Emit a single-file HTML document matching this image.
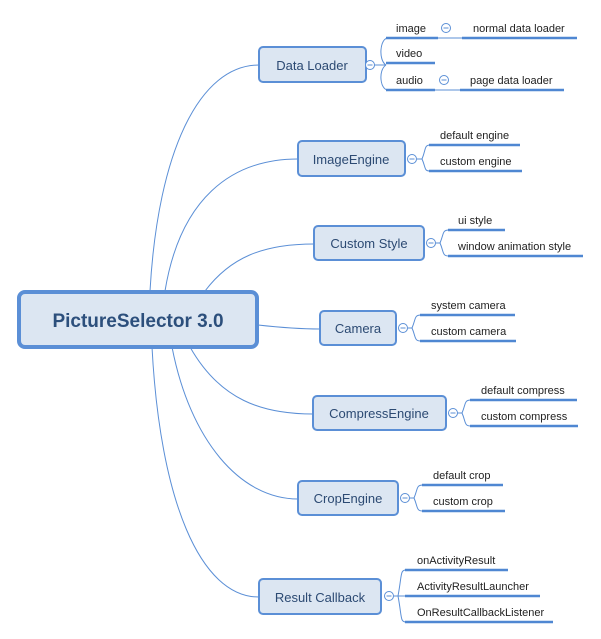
<!DOCTYPE html>
<html><head><meta charset="utf-8"><style>
html,body{margin:0;padding:0;background:#fff;}
svg{display:block;font-family:"Liberation Sans",Arial,sans-serif;}
.n{fill:#dce6f2;stroke:#5b8fd6;stroke-width:2;}
.t{fill:#2c4a73;font-size:13px;text-anchor:middle;}
.c{fill:none;stroke:#5b8fd6;stroke-width:1;}
.u{stroke:#4f87d2;stroke-width:2.5;}
.l{fill:#222;font-size:11px;}
.k{fill:#fff;stroke:#5b8fd6;stroke-width:1;}
.m{stroke:#5b8fd6;stroke-width:1;}
</style></head><body>
<svg width="601" height="639" viewBox="0 0 601 639">
<!-- root connectors -->
<path class="c" d="M150,291 C158,150 200,65 259,65"/>
<path class="c" d="M165,291 C180,200 230,159 298,159"/>
<path class="c" d="M205,291 C230,258 262,244 314,244"/>
<path class="c" d="M258,325 C285,328 300,329 320,329"/>
<path class="c" d="M190,347 C220,400 262,414 313,414"/>
<path class="c" d="M172,347 C190,440 240,499 298,499"/>
<path class="c" d="M152,347 C160,500 200,597 259,597"/>
<!-- root -->
<rect x="19" y="292" width="238" height="55" rx="6" fill="#dce6f2" stroke="#5b8fd6" stroke-width="4"/>
<text x="138" y="327" style="font-size:19px;font-weight:bold;fill:#2c4f7c;text-anchor:middle">PictureSelector 3.0</text>

<!-- helper: bracket function drawn manually -->
<!-- Data Loader -->
<rect class="n" x="259" y="47" width="107" height="35" rx="4"/>
<text class="t" x="312" y="70">Data Loader</text>
<path class="c" d="M374,65 L386,65 M386,65 C378,60 380,38 388,38 M386,65 C378,70 380,90 388,90"/>
<circle class="k" cx="370" cy="65" r="4.5"/><line class="m" x1="367.5" y1="65" x2="372.5" y2="65"/>
<line class="u" x1="386" y1="38" x2="438" y2="38"/><text class="l" x="396" y="32">image</text>
<line class="c" x1="438" y1="38" x2="462" y2="38"/>
<circle class="k" cx="446" cy="28" r="4.5"/><line class="m" x1="443.5" y1="28" x2="448.5" y2="28"/>
<line class="u" x1="462" y1="38" x2="577" y2="38"/><text class="l" x="473" y="32">normal data loader</text>
<line class="u" x1="386" y1="63" x2="435" y2="63"/><text class="l" x="396" y="57">video</text>
<line class="u" x1="386" y1="90" x2="435" y2="90"/><text class="l" x="396" y="84">audio</text>
<line class="c" x1="435" y1="90" x2="460" y2="90"/>
<circle class="k" cx="444" cy="80" r="4.5"/><line class="m" x1="441.5" y1="80" x2="446.5" y2="80"/>
<line class="u" x1="460" y1="90" x2="564" y2="90"/><text class="l" x="470" y="84">page data loader</text>

<!-- ImageEngine -->
<rect class="n" x="298" y="141" width="107" height="35" rx="4"/>
<text class="t" x="351" y="164">ImageEngine</text>
<path class="c" d="M417,159 L422,159 C426,150 424,145 430,145 M422,159 C426,168 424,171 430,171"/>
<circle class="k" cx="412" cy="159" r="4.5"/><line class="m" x1="409.5" y1="159" x2="414.5" y2="159"/>
<line class="u" x1="429" y1="145" x2="520" y2="145"/><text class="l" x="440" y="139">default engine</text>
<line class="u" x1="429" y1="171" x2="522" y2="171"/><text class="l" x="440" y="165">custom engine</text>

<!-- Custom Style -->
<rect class="n" x="314" y="226" width="110" height="34" rx="4"/>
<text class="t" x="369" y="248">Custom Style</text>
<path class="c" d="M436,243 L440,243 C444,234 442,230 449,230 M440,243 C444,252 442,256 449,256"/>
<circle class="k" cx="431" cy="243" r="4.5"/><line class="m" x1="428.5" y1="243" x2="433.5" y2="243"/>
<line class="u" x1="448" y1="230" x2="505" y2="230"/><text class="l" x="458" y="224">ui style</text>
<line class="u" x1="448" y1="256" x2="583" y2="256"/><text class="l" x="458" y="250">window animation style</text>

<!-- Camera -->
<rect class="n" x="320" y="311" width="76" height="34" rx="4"/>
<text class="t" x="358" y="333">Camera</text>
<path class="c" d="M408,328 L412,328 C416,319 414,315 421,315 M412,328 C416,337 414,341 421,341"/>
<circle class="k" cx="403" cy="328" r="4.5"/><line class="m" x1="400.5" y1="328" x2="405.5" y2="328"/>
<line class="u" x1="420" y1="315" x2="515" y2="315"/><text class="l" x="431" y="309">system camera</text>
<line class="u" x1="420" y1="341" x2="516" y2="341"/><text class="l" x="431" y="335">custom camera</text>

<!-- CompressEngine -->
<rect class="n" x="313" y="396" width="133" height="34" rx="4"/>
<text class="t" x="379" y="418">CompressEngine</text>
<path class="c" d="M458,413 L462,413 C466,404 464,400 471,400 M462,413 C466,422 464,426 471,426"/>
<circle class="k" cx="453" cy="413" r="4.5"/><line class="m" x1="450.5" y1="413" x2="455.5" y2="413"/>
<line class="u" x1="470" y1="400" x2="577" y2="400"/><text class="l" x="481" y="394">default compress</text>
<line class="u" x1="470" y1="426" x2="578" y2="426"/><text class="l" x="481" y="420">custom compress</text>

<!-- CropEngine -->
<rect class="n" x="298" y="481" width="100" height="34" rx="4"/>
<text class="t" x="348" y="503">CropEngine</text>
<path class="c" d="M410,498 L414,498 C418,489 416,485 423,485 M414,498 C418,507 416,511 423,511"/>
<circle class="k" cx="405" cy="498" r="4.5"/><line class="m" x1="402.5" y1="498" x2="407.5" y2="498"/>
<line class="u" x1="422" y1="485" x2="503" y2="485"/><text class="l" x="433" y="479">default crop</text>
<line class="u" x1="422" y1="511" x2="505" y2="511"/><text class="l" x="433" y="505">custom crop</text>

<!-- Result Callback -->
<rect class="n" x="259" y="579" width="122" height="35" rx="4"/>
<text class="t" x="320" y="602">Result Callback</text>
<path class="c" d="M394,596 L398,596 C402,575 400,570 406,570 M398,596 L406,596 M398,596 C402,617 400,622 406,622"/>
<circle class="k" cx="389" cy="596" r="4.5"/><line class="m" x1="386.5" y1="596" x2="391.5" y2="596"/>
<line class="u" x1="405" y1="570" x2="508" y2="570"/><text class="l" x="417" y="564">onActivityResult</text>
<line class="u" x1="405" y1="596" x2="540" y2="596"/><text class="l" x="417" y="590">ActivityResultLauncher</text>
<line class="u" x1="405" y1="622" x2="553" y2="622"/><text class="l" x="417" y="616">OnResultCallbackListener</text>
</svg>
</body></html>
